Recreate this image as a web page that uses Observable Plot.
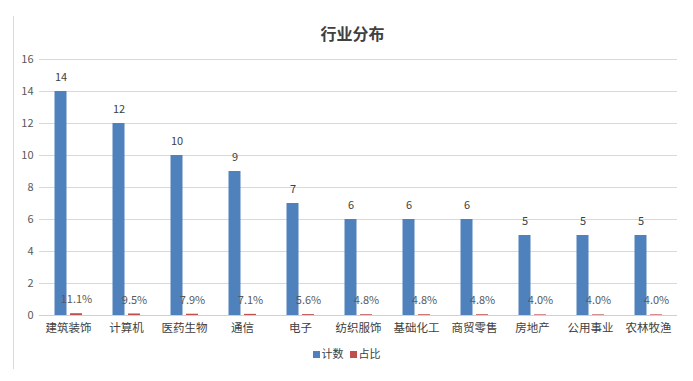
<!DOCTYPE html>
<html>
<head>
<meta charset="utf-8">
<script src="https://cdn.jsdelivr.net/npm/d3@7"></script>
<script src="https://cdn.jsdelivr.net/npm/@observablehq/plot@0.6"></script>
<style>
  html, body { margin: 0; padding: 0; background: #fff; }
  body { width: 693px; height: 381px; position: relative; overflow: hidden; font-family: "Noto Sans CJK SC", "Noto Sans", sans-serif; }
  #border { position: absolute; left: 13px; top: 16px; width: 0; height: 353px; border-left: 1px solid #d9d9d9; z-index: 2; }
  #title { position: absolute; left: 6px; width: 693px; top: 20px; text-align: center; font-size: 16px; font-weight: bold; color: #404040; line-height: 26px; }
  #chart { position: absolute; left: 0; top: 46px; }
  #legend { position: absolute; left: 0; width: 693px; top: 344px; text-align: center; font-size: 11px; color: #404040; line-height: 18px; }
  #legend span.sw { display: inline-block; width: 7px; height: 7px; margin-right: 2px; vertical-align: 0px; }
  #legend span.item { margin: 0 3px; }
</style>
</head>
<body>
<div id="border"></div>
<div id="title">行业分布</div>
<div id="chart"></div>
<div id="legend"></div>
<script>
const categories = ["建筑装饰", "计算机", "医药生物", "通信", "电子", "纺织服饰", "基础化工", "商贸零售", "房地产", "公用事业", "农林牧渔"];
const counts = [14, 12, 10, 9, 7, 6, 6, 6, 5, 5, 5];
const sharePct = [11.1, 9.5, 7.9, 7.1, 5.6, 4.8, 4.8, 4.8, 4.0, 4.0, 4.0];
const seriesNames = ["计数", "占比"];
const seriesColors = ["#4f81bd", "#c0504d"];
const yTicks = [0, 2, 4, 6, 8, 10, 12, 14, 16];

const countRows = categories.map((c, i) => ({category: c, value: counts[i], label: String(counts[i])}));
const shareRows = categories.map((c, i) => ({category: c, value: sharePct[i] / 100, label: sharePct[i].toFixed(1) + "%"}));

const chart = Plot.plot({
  width: 693,
  height: 294,
  marginLeft: 39,
  marginRight: 16,
  marginTop: 13,
  marginBottom: 25,
  style: {fontFamily: '"Noto Sans CJK SC", "Noto Sans", sans-serif', background: "transparent", color: "#595959"},
  x: {domain: categories, paddingInner: 0.785, paddingOuter: 0.3925, label: null, tickSize: 0, tickPadding: 8},
  y: {domain: [0, 16], ticks: yTicks, label: null, tickSize: 0, tickPadding: 6},
  marks: [
    Plot.gridY(yTicks.filter(t => t > 0), {stroke: "#d9d9d9", strokeOpacity: 1}),
    Plot.axisY({ticks: yTicks, tickSize: 0, tickPadding: 6, fontSize: 11, fill: "#595959", label: null}),
    Plot.axisX({tickSize: 0, tickPadding: 8, fontSize: 11.5, fill: "#404040", label: null}),
    Plot.barY(countRows, {x: "category", y: "value", fill: seriesColors[0], dx: -7.5}),
    Plot.barY(shareRows, {x: "category", y: "value", fill: seriesColors[1], dx: 8}),
    Plot.ruleY([0], {stroke: "#d0d0d0"}),
    Plot.text(countRows, {x: "category", y: "value", text: "label", dx: -7.5, dy: -14, fontSize: 11, fill: "#404040"}),
    Plot.text(shareRows, {x: "category", y: "value", text: "label", dx: 8, dy: -14, fontSize: 11, fill: "#595959"})
  ]
});
document.getElementById("chart").appendChild(chart);

const legend = document.getElementById("legend");
seriesNames.forEach((name, i) => {
  const item = document.createElement("span");
  item.className = "item";
  const sw = document.createElement("span");
  sw.className = "sw";
  sw.style.background = seriesColors[i];
  item.appendChild(sw);
  item.appendChild(document.createTextNode(name));
  legend.appendChild(item);
});
</script>
</body>
</html>
